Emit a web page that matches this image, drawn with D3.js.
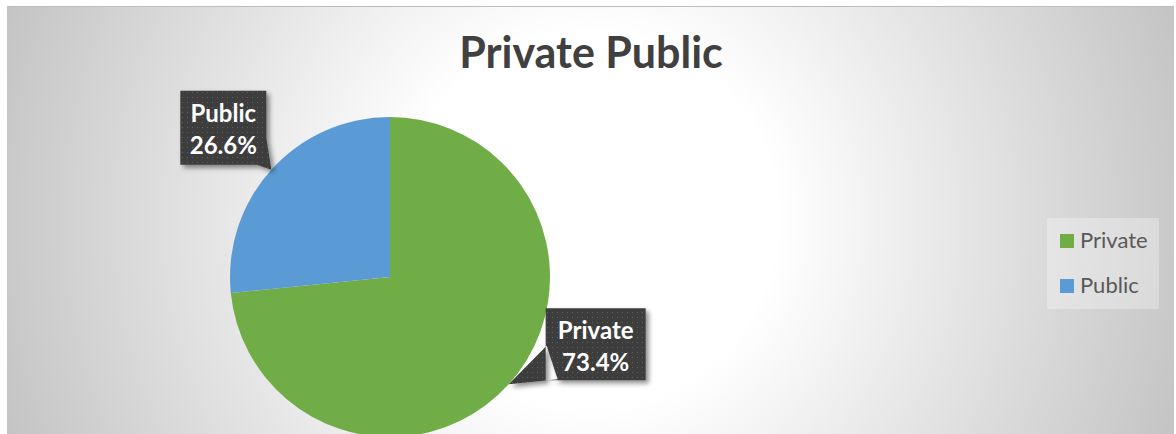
<!DOCTYPE html>
<html><head><meta charset="utf-8">
<script src="https://cdn.jsdelivr.net/npm/d3@7"></script>
<style>html,body{margin:0;padding:0;background:#fff;overflow:hidden}svg{display:block}</style>
</head><body>
<script>
const categories = ["Private", "Public"];
const values = [73.4, 26.6];
const colors = ["#70ad47", "#5b9bd5"];
const titleText = "Private Public";

const W = 1176, H = 434;
const svg = d3.select("body").append("svg").attr("width", W).attr("height", H);
const defs = svg.append("defs");

// background gradient
const g = defs.append("radialGradient").attr("id", "bg").attr("gradientUnits", "userSpaceOnUse")
  .attr("cx", 590).attr("cy", 220).attr("r", 620);
g.append("stop").attr("offset", 0).attr("stop-color", "#ffffff");
g.append("stop").attr("offset", 0.3).attr("stop-color", "#ffffff");
g.append("stop").attr("offset", 1).attr("stop-color", "#c4c4c4");

const pat = defs.append("pattern").attr("id", "dots").attr("patternUnits", "userSpaceOnUse")
  .attr("width", 5).attr("height", 5);
pat.append("rect").attr("width", 5).attr("height", 5).attr("fill", "#3c3c3c");
pat.append("rect").attr("x", 2).attr("y", 2).attr("width", 1).attr("height", 1).attr("fill", "#606060");

const sh = defs.append("filter").attr("id", "shadow").attr("x", "-20%").attr("y", "-20%").attr("width", "150%").attr("height", "150%");
sh.append("feDropShadow").attr("dx", 3).attr("dy", 3).attr("stdDeviation", 2.5).attr("flood-color", "#000").attr("flood-opacity", 0.45);

svg.append("rect").attr("x", 7).attr("y", 6).attr("width", 1167).attr("height", H - 6).attr("fill", "url(#bg)");
svg.append("line").attr("x1", 7).attr("x2", 1174).attr("y1", 6.5).attr("y2", 6.5).attr("stroke", "#bdbdbd");

// title
svg.append("text").attr("x", 591).attr("y", 68).attr("text-anchor", "middle")
  .attr("font-family", "Lato, 'Open Sans', sans-serif").attr("font-weight", "bold")
  .attr("font-size", 43).attr("fill", "#404040").text(titleText);

// pie
const cx = 390, cy = 277, R = 160;
const pie = d3.pie().sort(null).value(d => d)(values);
const arc = d3.arc().innerRadius(0).outerRadius(R);
const pg = svg.append("g").attr("transform", `translate(${cx},${cy})`);
pg.selectAll("path").data(pie).join("path").attr("d", arc).attr("fill", (d, i) => colors[i]);

// callout labels: tip at arc edge at mid-angle, box offset from tip
const labelLayout = [
  { dx: 87, dy: -40, w: 100, h: 72, side: "left" },
  { dx: -48, dy: -42, w: 86, h: 74, side: "right" }
];
const fmt = d3.format(".1f");
pie.forEach((d, i) => {
  const a = (d.startAngle + d.endAngle) / 2;
  const tx = cx + R * Math.sin(a), ty = cy - R * Math.cos(a);
  const L = labelLayout[i];
  const bx = tx + L.dx - L.w / 2, by = ty + L.dy - L.h / 2;
  let tri;
  if (L.side === "left") {
    tri = [[bx + 1, by + L.h * 0.52], [tx, ty], [bx + 12, by + L.h - 1]];
  } else {
    tri = [[bx + L.w - 1, by + L.h * 0.55], [tx, ty], [bx + L.w - 12, by + L.h - 1]];
  }
  const lg = svg.append("g").attr("filter", "url(#shadow)");
  lg.append("path").attr("d", `M${bx},${by}h${L.w}v${L.h}h${-L.w}Z M${tri.map(p => p.join(",")).join("L")}Z`)
    .attr("fill", "url(#dots)");
  const t = svg.append("text").attr("text-anchor", "middle")
    .attr("font-family", "Lato, 'Open Sans', sans-serif").attr("font-weight", "bold")
    .attr("font-size", 24).attr("fill", "#ffffff");
  t.append("tspan").attr("x", bx + L.w / 2).attr("y", by + 31).text(categories[i]);
  t.append("tspan").attr("x", bx + L.w / 2).attr("y", by + 63).text(fmt(values[i]) + "%");
});

// legend
const lgX = 1047, lgY = 218;
svg.append("rect").attr("x", lgX).attr("y", lgY).attr("width", 112).attr("height", 91)
  .attr("fill", "#ffffff").attr("fill-opacity", 0.3);
categories.forEach((c, i) => {
  const y = lgY + 16 + i * 45;
  svg.append("rect").attr("x", lgX + 13).attr("y", y).attr("width", 14).attr("height", 14).attr("fill", colors[i]);
  svg.append("text").attr("x", lgX + 33).attr("y", y + 14)
    .attr("font-family", "Lato, 'Open Sans', sans-serif").attr("font-size", 22).attr("fill", "#595959").text(c);
});
</script>
</body></html>
